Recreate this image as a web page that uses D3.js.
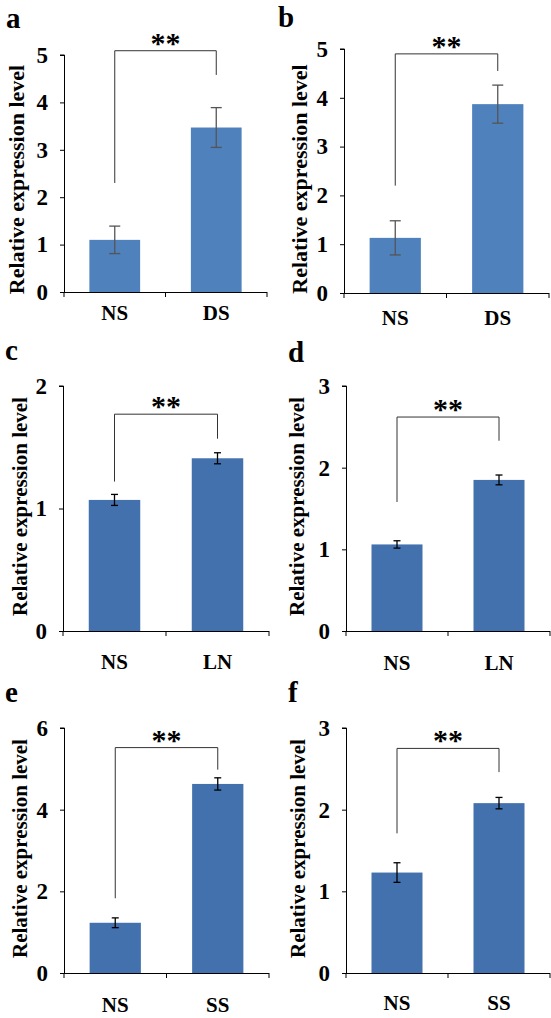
<!DOCTYPE html>
<html>
<head>
<meta charset="utf-8">
<script src="https://cdn.jsdelivr.net/npm/d3@7"></script>
<style>
  html, body { margin: 0; padding: 0; background: #fff; }
  svg { display: block; }
  text { font-family: "Liberation Serif", "Times New Roman", serif; font-weight: bold; fill: #000; }
</style>
</head>
<body>
<svg id="chart" width="551" height="1018"></svg>
<script>
// ---------- data ----------
const panelLetters = ["a", "b", "c", "d", "e", "f"];
const categories = [["NS", "DS"], ["NS", "DS"], ["NS", "LN"], ["NS", "LN"], ["NS", "SS"], ["NS", "SS"]];
const means = [[1.10, 3.47], [1.13, 3.87], [1.07, 1.41], [1.06, 1.85], [1.23, 4.63], [1.23, 2.08]];
const errors = [[0.29, 0.42], [0.35, 0.39], [0.045, 0.045], [0.045, 0.06], [0.12, 0.15], [0.12, 0.07]];
const yMaxes = [5, 5, 2, 3, 6, 3];
const yTickValues = [[0, 1, 2, 3, 4, 5], [0, 1, 2, 3, 4, 5], [0, 1, 2], [0, 1, 2, 3], [0, 2, 4, 6], [0, 1, 2, 3]];
const yAxisTitle = "Relative expression level";
const sigMarks = ["**", "**", "**", "**", "**", "**"];
// significance bracket (data units): bar height, left leg end, right leg end
const bracketLevel = [5.09, 4.90, 1.77, 2.62, 5.52, 2.75];
const bracketLeftEnd = [2.30, 2.20, 1.22, 1.58, 1.83, 1.71];
const bracketRightEnd = [4.58, 4.55, 1.57, 2.33, 4.98, 2.46];

// ---------- layout ----------
const frames = [
  { x0: 64,  x1: 267, top: 55,  y0: 292, lx: 6,   ly: 28,  tx: 16,  tdy: 6,  tfs: 22, catOff: 28, bar: "#4F81BD", err: "#555" },
  { x0: 344, x1: 549, top: 49,  y0: 293, lx: 278, ly: 27,  tx: 299, tdy: 8,  tfs: 22, catOff: 32, bar: "#4F81BD", err: "#555" },
  { x0: 63,  x1: 269, top: 386, y0: 631, lx: 5,   ly: 360, tx: 19,  tdy: -2, tfs: 21, catOff: 38, bar: "#4371AE", err: "#000" },
  { x0: 346, x1: 550, top: 386, y0: 631, lx: 288, ly: 362, tx: 296, tdy: -2, tfs: 21, catOff: 39, bar: "#4371AE", err: "#000" },
  { x0: 64,  x1: 269, top: 728, y0: 973, lx: 5,   ly: 702, tx: 19,  tdy: -2, tfs: 21, catOff: 39, bar: "#4371AE", err: "#000" },
  { x0: 346, x1: 550, top: 728, y0: 973, lx: 288, ly: 702, tx: 297, tdy: -2, tfs: 21, catOff: 37, bar: "#4371AE", err: "#000" }
];

const svg = d3.select("#chart");

frames.forEach((f, i) => {
  const g = svg.append("g");
  const x = d3.scaleBand().domain(categories[i]).range([f.x0, f.x1]).paddingInner(0.5).paddingOuter(0.25);
  const y = d3.scaleLinear().domain([0, yMaxes[i]]).range([f.y0, f.top]);
  const rows = categories[i].map((c, k) => ({ c, v: means[i][k], e: errors[i][k] }));

  // bars
  g.selectAll("rect.bar").data(rows).enter().append("rect")
    .attr("x", d => x(d.c))
    .attr("width", x.bandwidth())
    .attr("y", d => y(d.v))
    .attr("height", d => y(0) - y(d.v))
    .attr("fill", f.bar);

  // error bars
  const capW = i < 2 ? 5.5 : 3.5;
  const eg = g.selectAll("g.err").data(rows).enter().append("g")
    .attr("stroke", f.err).attr("stroke-width", 1.3);
  eg.append("line")
    .attr("x1", d => x(d.c) + x.bandwidth() / 2).attr("x2", d => x(d.c) + x.bandwidth() / 2)
    .attr("y1", d => y(d.v + d.e)).attr("y2", d => y(d.v - d.e));
  eg.append("line")
    .attr("x1", d => x(d.c) + x.bandwidth() / 2 - capW).attr("x2", d => x(d.c) + x.bandwidth() / 2 + capW)
    .attr("y1", d => y(d.v + d.e)).attr("y2", d => y(d.v + d.e));
  eg.append("line")
    .attr("x1", d => x(d.c) + x.bandwidth() / 2 - capW).attr("x2", d => x(d.c) + x.bandwidth() / 2 + capW)
    .attr("y1", d => y(d.v - d.e)).attr("y2", d => y(d.v - d.e));

  // y axis
  const ya = g.append("g").attr("transform", `translate(${f.x0},0)`)
    .call(d3.axisLeft(y).tickValues(yTickValues[i]).tickFormat(d3.format("d")).tickSize(4).tickPadding(12));
  ya.select(".domain").attr("stroke", "#000").attr("d", `M-4,${f.top}H0.5V${f.y0}`);
  ya.selectAll(".tick line").attr("stroke", "#000");
  ya.selectAll(".tick text").attr("font-size", 23).attr("font-family", "Liberation Serif").attr("font-weight", "bold").attr("fill", "#000");

  // x axis
  const xa = g.append("g").attr("transform", `translate(0,${f.y0})`);
  xa.append("line").attr("x1", f.x0 - 4).attr("x2", f.x1).attr("y1", 0.5).attr("y2", 0.5).attr("stroke", "#000");
  const bounds = [f.x0, (x(categories[i][0]) + x(categories[i][1]) + x.bandwidth()) / 2, f.x1];
  xa.selectAll("line.tk").data(bounds).enter().append("line")
    .attr("x1", d => d).attr("x2", d => d).attr("y1", 0).attr("y2", 5).attr("stroke", "#000");
  xa.selectAll("text.cat").data(categories[i]).enter().append("text")
    .attr("x", d => x(d) + x.bandwidth() / 2)
    .attr("y", f.catOff)
    .attr("text-anchor", "middle")
    .attr("font-size", 21)
    .text(d => d);

  // y axis title
  g.append("text")
    .attr("transform", `translate(${f.tx + 8},${(f.top + f.y0) / 2 + f.tdy}) rotate(-90)`)
    .attr("text-anchor", "middle")
    .attr("font-size", f.tfs)
    .text(yAxisTitle);

  // panel letter
  g.append("text").attr("x", f.lx).attr("y", f.ly).attr("font-size", 29).text(panelLetters[i]);

  // significance bracket
  const cx0 = x(categories[i][0]) + x.bandwidth() / 2;
  const cx1 = x(categories[i][1]) + x.bandwidth() / 2;
  const by = y(bracketLevel[i]);
  g.append("path")
    .attr("d", `M${cx0},${y(bracketLeftEnd[i])}V${by}H${cx1}V${y(bracketRightEnd[i])}`)
    .attr("fill", "none").attr("stroke", "#333").attr("stroke-width", 1);
  g.append("text")
    .attr("x", (cx0 + cx1) / 2).attr("y", by + 2)
    .attr("text-anchor", "middle").attr("font-size", 30)
    .text(sigMarks[i]);
});
</script>
</body>
</html>
